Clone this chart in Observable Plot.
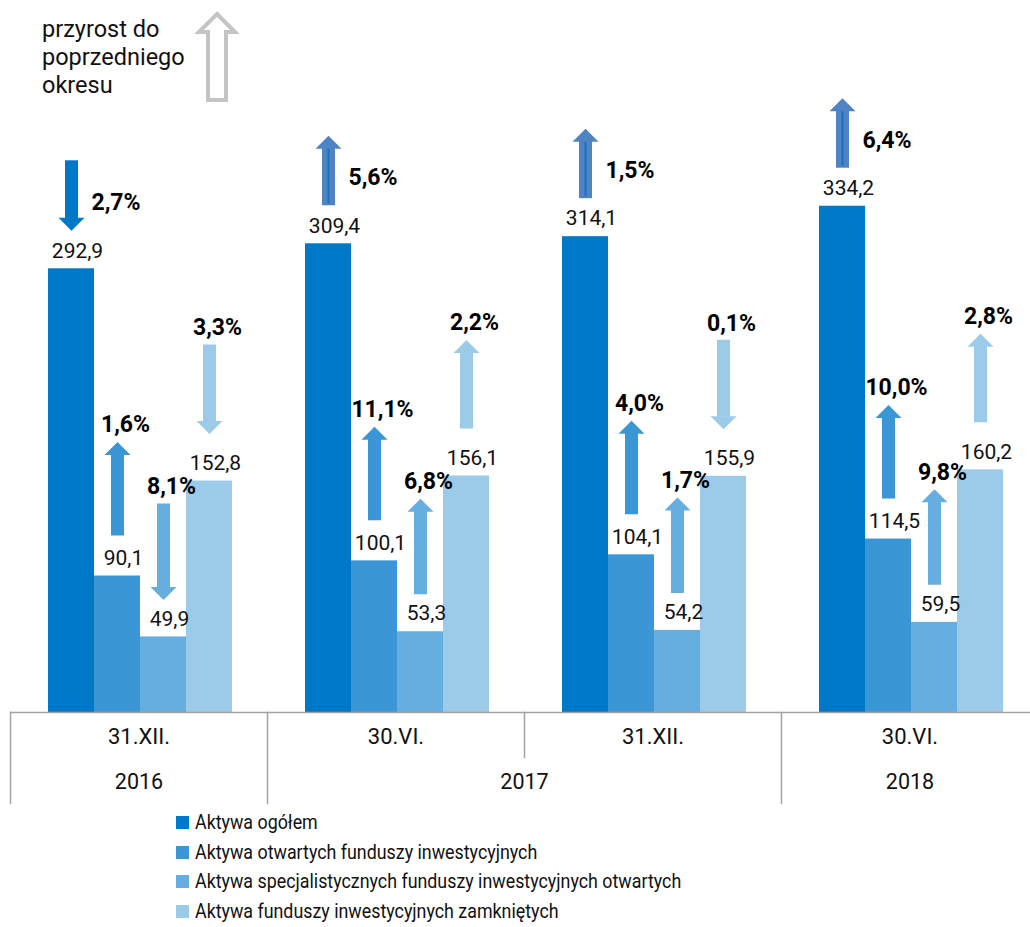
<!DOCTYPE html>
<html>
<head>
<meta charset="utf-8">
<script src="https://cdn.jsdelivr.net/npm/d3@7"></script>
<script src="https://cdn.jsdelivr.net/npm/@observablehq/plot@0.6"></script>
<style>
  body { margin: 0; background: #fff; font-family: Roboto, "Noto Sans", sans-serif; color: #111; }
  #wrap { position: relative; width: 1030px; }
  #note { position: absolute; left: 42px; top: 15px; font-size: 23.5px; line-height: 28px; color: #111; }
  #noteArrow { position: absolute; left: 0; top: 0; }
  #legend { margin-left: 176px; margin-top: 3px; font-size: 20.5px; line-height: 29.5px; }
  #legend .row { display: flex; align-items: center; }
  #legend .sw { width: 13px; height: 13px; margin-right: 6px; flex: none; }
  #legend .tx { display: inline-block; white-space: nowrap; transform: scaleX(0.87); transform-origin: 0 50%; }
</style>
</head>
<body>
<div id="wrap">
  <div id="chart"></div>
  <svg id="noteArrow" width="260" height="110"><path d="M217 14 L235 32 L226 32 L226 100 L208 100 L208 32 L199 32 Z" fill="none" stroke="#c4c4c4" stroke-width="4" stroke-linejoin="miter"/></svg>
  <div id="note">przyrost do<br>poprzedniego<br>okresu</div>
</div>
<div id="legend"></div>
<script>
// ---- data ----
const periods = ["31.XII. 2016", "30.VI. 2017", "31.XII. 2017", "30.VI. 2018"];
const dateLabels = ["31.XII.", "30.VI.", "31.XII.", "30.VI."];
const yearLabels = ["2016", "2017", "2018"];
const series = [
  "Aktywa ogółem",
  "Aktywa otwartych funduszy inwestycyjnych",
  "Aktywa specjalistycznych funduszy inwestycyjnych otwartych",
  "Aktywa funduszy inwestycyjnych zamkniętych"
];
const colors = ["#0078c8", "#3a96d4", "#66aee0", "#9ccbea"];
// values (mld zł)
const aktywaOgolem = [292.9, 309.4, 314.1, 334.2];
const aktywaOtwartych = [90.1, 100.1, 104.1, 114.5];
const aktywaSpecjalistycznych = [49.9, 53.3, 54.2, 59.5];
const aktywaZamknietych = [152.8, 156.1, 155.9, 160.2];
// change vs previous period (%), sign = arrow direction
const zmianaOgolem = [-2.7, 5.6, 1.5, 6.4];
const zmianaOtwartych = [1.6, 11.1, 4.0, 10.0];
const zmianaSpecjalistycznych = [-8.1, 6.8, 1.7, 9.8];
const zmianaZamknietych = [-3.3, 2.2, -0.1, 2.8];

const valuesBySeries = [aktywaOgolem, aktywaOtwartych, aktywaSpecjalistycznych, aktywaZamknietych];
const changesBySeries = [zmianaOgolem, zmianaOtwartych, zmianaSpecjalistycznych, zmianaZamknietych];

// ---- layout (pixels) ----
const W = 1030, H = 805, MB = 93, YMAX = 470;
const k = (H - MB) / YMAX; // px per unit
const arrowLayout = [
  {gap: 38, len: 70, label: 66},
  {gap: 40, len: 94, label: 19},
  {gap: 37, len: 96, label: 16},
  {gap: 47, len: 89, label: 18}
];
const HEAD = 13;

const fmt = v => v.toFixed(1).replace(".", ",");

const rows = [];
periods.forEach((p, i) => series.forEach((s, j) => {
  const value = valuesBySeries[j][i], change = changesBySeries[j][i];
  const L = arrowLayout[j];
  const lo = value + L.gap / k, hi = lo + L.len / k;
  rows.push({period: p, series: s, j, value, change, up: change >= 0, lo, hi,
    color: j === 0 && change >= 0 ? "#4f84c4" : colors[j]});
}));

const upHead = {draw(ctx, size) { const r = Math.sqrt(size / Math.PI); ctx.moveTo(0, 0); ctx.lineTo(r, r); ctx.lineTo(-r, r); ctx.closePath(); }};
const downHead = {draw(ctx, size) { const r = Math.sqrt(size / Math.PI); ctx.moveTo(0, 0); ctx.lineTo(r, -r); ctx.lineTo(-r, -r); ctx.closePath(); }};

const font = "Roboto, 'Noto Sans', sans-serif";
const dateRows = periods.map((p, i) => ({period: p, label: dateLabels[i]}));
const yearCentered = [{period: periods[0], label: yearLabels[0]}, {period: periods[3], label: yearLabels[2]}];
const yearSpanning = [{period: periods[1], label: yearLabels[1]}];
const grey = "#a3a3a3";

const chart = Plot.plot({
  width: W, height: H,
  marginTop: 0, marginBottom: MB, marginLeft: 10, marginRight: 0,
  style: {fontFamily: font, background: "transparent", overflow: "visible"},
  fx: {domain: periods, range: [10, 1038], padding: 0, axis: null},
  x: {domain: series, paddingInner: 0, paddingOuter: 0.76, align: 0.52, axis: null},
  y: {domain: [0, YMAX], axis: null},
  color: {domain: series, range: colors},
  marks: [
    Plot.barY(rows, {fx: "period", x: "series", y: "value", fill: "series"}),
    Plot.ruleY([0], {stroke: grey, strokeWidth: 1.5}),
    Plot.frame({anchor: "left", stroke: grey, strokeWidth: 1.5, insetTop: H - MB, insetBottom: -91, fx: () => periods[0]}),
    Plot.frame({anchor: "left", stroke: grey, strokeWidth: 1.5, insetTop: H - MB, insetBottom: -91, fx: () => periods[1]}),
    Plot.frame({anchor: "left", stroke: grey, strokeWidth: 1.5, insetTop: H - MB, insetBottom: -45, fx: () => periods[2]}),
    Plot.frame({anchor: "left", stroke: grey, strokeWidth: 1.5, insetTop: H - MB, insetBottom: -91, fx: () => periods[3]}),
    Plot.text(dateRows, {fx: "period", text: "label", frameAnchor: "bottom", dy: 31, fontSize: 22, fill: "#111"}),
    Plot.text(yearCentered, {fx: "period", text: "label", frameAnchor: "bottom", dy: 76, fontSize: 21.5, fill: "#111"}),
    Plot.text(yearSpanning, {fx: "period", text: "label", frameAnchor: "bottom-right", textAnchor: "middle", dy: 76, fontSize: 21.5, fill: "#111"}),
    // value labels
    Plot.text(rows, {fx: "period", x: "series", y: "value", text: d => fmt(d.value), dy: -18, dx: 6, fontSize: 21, fill: "#111"}),
    // arrow shafts
    Plot.ruleX(rows, {fx: "period", x: "series",
      y1: d => d.up ? d.lo : d.hi,
      y2: d => d.up ? d.hi - (HEAD - 1) / k : d.lo + (HEAD - 1) / k,
      stroke: "color", strokeWidth: 13}),
    Plot.ruleX(rows.filter(d => d.j === 0 && d.up), {fx: "period", x: "series",
      y1: d => d.lo + 2 / k, y2: d => d.hi - 6 / k, stroke: "#1d6fc1", strokeWidth: 2}),
    // arrow heads
    Plot.dot(rows.filter(d => d.up), {fx: "period", x: "series", y: "hi", symbol: upHead, r: 13, fill: "color", stroke: "none"}),
    Plot.dot(rows.filter(d => !d.up), {fx: "period", x: "series", y: "lo", symbol: downHead, r: 13, fill: "color", stroke: "none"}),
    // percent labels
    Plot.text(rows.filter(d => d.j > 0), {fx: "period", x: "series", y: "hi", text: d => fmt(Math.abs(d.change)) + "%",
      dy: -17, dx: 8, fontSize: 23, fontWeight: "bold", fill: "#000"}),
    Plot.text(rows.filter(d => d.j === 0), {fx: "period", x: "series", y: d => d.value + arrowLayout[0].label / k,
      text: d => fmt(Math.abs(d.change)) + "%", textAnchor: "start", dx: 20, fontSize: 23, fontWeight: "bold", fill: "#000"})
  ]
});
document.getElementById("chart").appendChild(chart);

const legend = document.getElementById("legend");
series.forEach((s, j) => {
  const row = document.createElement("div"); row.className = "row";
  const sw = document.createElement("span"); sw.className = "sw"; sw.style.background = colors[j];
  const t = document.createElement("span"); t.className = "tx"; t.textContent = s;
  row.appendChild(sw); row.appendChild(t); legend.appendChild(row);
});
</script>
</body>
</html>
